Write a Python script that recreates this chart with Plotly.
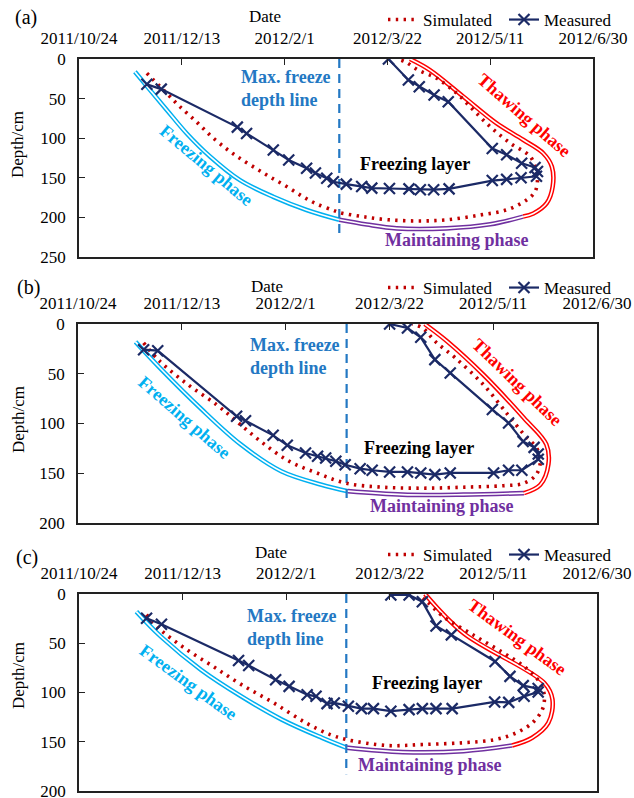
import plotly.graph_objects as go
import pandas as pd

W, H = 634, 798
START = pd.Timestamp('2011-10-24')
FONT = 'Liberation Serif, Times New Roman, serif'

tick_labels = ['2011/10/24', '2011/12/13', '2012/2/1', '2012/3/22', '2012/5/11', '2012/6/30']
y_ticks_a = [0, 50, 100, 150, 200, 250]
y_ticks_bc = [0, 50, 100, 150, 200]

# ---------------- Panel (a)  (x values = days since 2011/10/24) ----------------
meas_a_days = [33, 40, 77, 81.5, 94.5, 102, 110.7, 115, 120.5, 123.7, 130, 137.5, 142.4, 151, 160.5,
               166, 172.5, 180, 201, 208, 215, 222.5, 223, 221.8, 215.3, 208, 201, 179.6, 172.7,
               165.5, 160.2, 150.5]
meas_a_depth = [32, 38, 86, 94, 115, 127.5, 138, 144, 150.5, 155, 158, 161, 163, 163.5, 164,
                165, 165, 164, 153.5, 152, 150, 148, 142, 137, 131.7, 121, 113, 54, 45.5,
                35, 26.5, 0]
sim_a_days = [33, 43.5, 49, 57, 64.5, 72, 78, 86, 93, 101, 109, 115.6, 123.6, 127, 138, 150.5, 165,
              179, 195, 208, 217.7, 221.8, 223, 222, 219.4, 209.6, 200, 191.8, 183.7, 174, 165,
              158.6, 154.5]
sim_a_depth = [18, 45.5, 60, 79, 98, 114, 125, 138, 149, 161, 174, 183, 191, 194, 199, 203, 204.5,
               203, 197, 190.5, 178, 167.5, 153, 138, 123, 106, 85.5, 64.4, 43.3, 24.4, 14,
               3.4, 0]
frz_env_a_days = [27.2, 34.5, 42.6, 52.4, 63.7, 78.3, 94.5, 110.7, 126.6]
frz_env_a_depth = [16, 39, 64, 94, 123, 153, 174, 190.6, 203]
mnt_env_a_days = [126.6, 140, 154.5, 178.8, 200, 216]
mnt_env_a_depth = [203, 209, 213.8, 213.8, 208.7, 199]
thw_env_a_days = [216, 221, 227.5, 230.4, 230, 225.8, 216, 203, 187, 170.7, 161]
thw_env_a_depth = [199, 195, 182, 161, 136, 119, 102, 81, 47.6, 14, 0]

# ---------------- Panel (b) ----------------
meas_b_days = [31.6, 38.4, 76.4, 80.7, 94, 100.8, 109.6, 115.4, 119.3, 124.2, 128.7, 135.9, 141.7,
               150.1, 158.7, 165.1, 171.9, 179.3, 200.2, 207.4, 213.8, 221.7, 221.7, 219.7, 214.4,
               207.4, 199.6, 179.3, 171.9, 165.1, 158.7, 150.1]
meas_b_depth = [25.8, 26.8, 92.8, 97.2, 111.9, 121.9, 129.6, 133, 134.7, 138, 141.4, 145.4, 147,
                148.7, 148.7, 149.7, 151.4, 149.7, 149.7, 147, 147, 136, 130.7, 124, 118,
                99.5, 86, 49.2, 35.8, 13.4, 4, 0]
sim_b_days = [31.6, 39.4, 53, 66.7, 76.4, 88, 101.8, 115.4, 129, 146.6, 166, 185.6, 205, 214.8,
              220.7, 222.7, 221, 214.8, 207, 195.3, 181.7, 172, 166, 161]
sim_b_depth = [19, 37.5, 61, 81, 97.8, 118, 138, 150, 160, 164, 165, 164, 162.5, 160,
               151.4, 138, 125, 111, 91, 61, 34, 17.4, 4, 0]
frz_env_b_days = [27.7, 39.4, 58.9, 78.4, 97.9, 117.3, 130]
frz_env_b_depth = [18, 44, 84.4, 121, 148, 161.5, 168]
mnt_env_b_days = [130, 156.3, 185.6, 214.8]
mnt_env_b_depth = [168, 171.5, 171.5, 170]
thw_env_b_days = [214.8, 222.7, 226.6, 225.6, 214.8, 195.3, 177.8, 167]
thw_env_b_depth = [170, 161.5, 141, 121, 94.5, 51, 17.4, 0]

# ---------------- Panel (c) ----------------
meas_c_days = [32.6, 39.8, 77, 81.9, 94.9, 101.4, 110.1, 114.4, 119.7, 123.2, 130, 136.3, 142.1,
               150.5, 159.3, 165.7, 172.3, 180.1, 200.6, 207.4, 214.8, 221.6, 221.6, 214.4, 208,
               200.8, 179.7, 172.3, 165.7, 159.3, 150.5]
meas_c_depth = [24.6, 30.7, 67.5, 72.5, 87, 93.8, 102.2, 103.9, 111.3, 110.6, 114, 116.4, 116.4,
                119, 117.4, 116.4, 116.4, 116.4, 109.6, 110, 103.9, 99.5, 96, 93, 83.6,
                68.5, 41.5, 32.4, 7.8, 1, 1]
sim_c_days = [32.6, 39.4, 51, 64.7, 78.4, 94, 109.6, 121.2, 129, 148.5, 166, 185.6, 201, 211,
              218.7, 223.6, 224.6, 222.6, 214.8, 205, 191.4, 175.8, 168, 164]
sim_c_depth = [21, 36.4, 55, 73.5, 92, 110.6, 130.9, 142.7, 147.7, 153.8, 152.8, 151, 147.7, 141,
               130.9, 117.4, 103.9, 90.4, 73.5, 60, 43, 23, 7.8, 1]
frz_env_c_days = [27.7, 39.4, 58.9, 78.4, 97.9, 117.3, 129]
frz_env_c_depth = [17.9, 43, 77, 104, 127.5, 146, 156]
mnt_env_c_days = [129, 156.3, 185.6, 209]
mnt_env_c_depth = [156, 160.5, 159.5, 153.8]
thw_env_c_days = [209, 218.7, 226.5, 228.5, 224.6, 185.6, 167]
thw_env_c_depth = [153.8, 146, 130.9, 107, 90.4, 39.8, 0]

# max freeze depth line: day and lower end depth
max_freeze_day = [126.6, 129.4, 129]
max_freeze_end = [226, 178, 183]

panel_letters = ['(a)', '(b)', '(c)']
y_max = [250, 200, 200]

# ---------------- layout geometry (window pixels) ----------------
boxes = [(79, 593, 59, 257), (78, 597, 324, 523), (79, 597, 594, 791)]
legend_y = [20, 288, 555]
date_pos = [(265, 16), (267, 286), (271, 552)]
letter_pos = [(26, 18), (28, 287), (27, 557)]
depth_title_y = [145, 420, 676]
mf_pos = [(239, 89), (248, 356), (245, 627)]
fl_pos = [(415, 164), (419, 448), (427, 683)]
fp_pos = [(206, 165, 40), (184, 417, 41), (188, 682, 36)]
mp_pos = [(457, 240), (442, 506), (430, 765)]
tp_pos = [(524, 115, 41), (517, 382, 44), (517, 637, 36)]

NAVY = '#1B2A66'
RED = '#C00000'
CYAN = '#00B0F0'
PURPLE = '#7030A0'
TRED = '#FF0000'
BLUE = '#2378C3'


def to_dates(days):
    return START + pd.to_timedelta(pd.Series(days, dtype=float), unit='D')


def px(x, y):
    """window pixel -> paper coords"""
    return x / W, 1 - y / H


panels = [
    (meas_a_days, meas_a_depth, sim_a_days, sim_a_depth, frz_env_a_days, frz_env_a_depth,
     mnt_env_a_days, mnt_env_a_depth, thw_env_a_days, thw_env_a_depth),
    (meas_b_days, meas_b_depth, sim_b_days, sim_b_depth, frz_env_b_days, frz_env_b_depth,
     mnt_env_b_days, mnt_env_b_depth, thw_env_b_days, thw_env_b_depth),
    (meas_c_days, meas_c_depth, sim_c_days, sim_c_depth, frz_env_c_days, frz_env_c_depth,
     mnt_env_c_days, mnt_env_c_depth, thw_env_c_days, thw_env_c_depth),
]

fig = go.Figure()
tickvals = pd.to_datetime(tick_labels, format='%Y/%m/%d')
legend_names = ['legend', 'legend2', 'legend3']

for i, p in enumerate(panels):
    (md, mv, sd, sv, fd, fv, nd, nv, td, tv) = p
    xa = 'x' if i == 0 else f'x{i+1}'
    ya = 'y' if i == 0 else f'y{i+1}'
    # double-line envelopes
    for d, v, c in [(fd, fv, CYAN), (nd, nv, PURPLE), (td, tv, TRED)]:
        fig.add_trace(go.Scatter(x=to_dates(d), y=v, mode='lines', line=dict(color=c, width=4.6, shape='spline'),
                                 xaxis=xa, yaxis=ya, showlegend=False, hoverinfo='skip'))
        fig.add_trace(go.Scatter(x=to_dates(d), y=v, mode='lines', line=dict(color='white', width=1.6, shape='spline'),
                                 xaxis=xa, yaxis=ya, showlegend=False, hoverinfo='skip'))
    # max freeze depth line
    fig.add_trace(go.Scatter(x=to_dates([max_freeze_day[i], max_freeze_day[i]]), y=[0, max_freeze_end[i]],
                             mode='lines', line=dict(color=BLUE, width=2.2, dash='9px,6px'),
                             xaxis=xa, yaxis=ya, showlegend=False, hoverinfo='skip'))
    fig.add_trace(go.Scatter(x=to_dates(sd), y=sv, mode='lines', name='Simulated',
                             line=dict(color=RED, width=3.6, dash='2.4px,5.4px', shape='spline'),
                             xaxis=xa, yaxis=ya, legend=legend_names[i]))
    fig.add_trace(go.Scatter(x=to_dates(md), y=mv, mode='lines+markers', name='Measured',
                             line=dict(color=NAVY, width=2.2),
                             marker=dict(symbol='x-thin', size=11, line=dict(width=2.2, color=NAVY)),
                             xaxis=xa, yaxis=ya, legend=legend_names[i]))

layout = dict(template='none', width=W, height=H, margin=dict(l=0, r=0, t=0, b=0, autoexpand=False),
              plot_bgcolor='white', paper_bgcolor='white', font=dict(family=FONT, size=17, color='black'))
for i, (x0, x1, y0, y1) in enumerate(boxes):
    sx = '' if i == 0 else str(i + 1)
    ya = 'y' if i == 0 else f'y{i+1}'
    xa = 'x' if i == 0 else f'x{i+1}'
    dx0, _ = px(x0, 0)
    dx1, _ = px(x1, 0)
    _, dy_top = px(0, y0)
    _, dy_bot = px(0, y1)
    layout['xaxis' + sx] = dict(domain=[dx0, dx1], anchor=ya, side='top', type='date',
                                range=[tickvals[0], tickvals[-1]], tickvals=tickvals, ticktext=tick_labels,
                                ticks='inside', ticklen=6, tickcolor='#222', showgrid=False, zeroline=False,
                                showline=True, mirror=True, linecolor='#222', linewidth=1.6, automargin=False,
                                tickfont=dict(size=17, family=FONT), ticklabelstandoff=6,
                                ticklabeloverflow='allow')
    yt = y_ticks_a if i == 0 else y_ticks_bc
    layout['yaxis' + sx] = dict(domain=[dy_bot, dy_top], anchor=xa, range=[y_max[i], 0],
                                tickvals=yt, ticks='inside', ticklen=6, tickcolor='#222', showgrid=False,
                                zeroline=False, showline=True, mirror=True, linecolor='#222', linewidth=1.6,
                                automargin=False, tickfont=dict(size=17, family=FONT), ticklabelstandoff=8,
                                ticklabeloverflow='allow')
    lx, ly = px(383, legend_y[i])
    layout[legend_names[i]] = dict(orientation='h', x=lx, y=ly, xanchor='left', yanchor='middle',
                                   bgcolor='rgba(0,0,0,0)', font=dict(size=17, family=FONT),
                                   entrywidth=76, entrywidthmode='pixels', borderwidth=0)
fig.update_layout(**layout)

ann = []


def add_text(x, y, text, size=18, color='black', bold=True, angle=0, xanchor='center', align='center'):
    ax, ay = px(x, y)
    t = f'<b>{text}</b>' if bold else text
    ann.append(dict(x=ax, y=ay, xref='paper', yref='paper', text=t, showarrow=False, textangle=angle,
                    font=dict(size=size, color=color, family=FONT), xanchor=xanchor, yanchor='middle',
                    align=align))


for i in range(3):
    add_text(*date_pos[i], 'Date', size=17, bold=False)
    add_text(*letter_pos[i], panel_letters[i], size=20, bold=False)
    add_text(18, depth_title_y[i], 'Depth/cm', size=17, bold=False, angle=-90)
    add_text(mf_pos[i][0], mf_pos[i][1], 'Max. freeze<br>depth line', color=BLUE, xanchor='left', align='left')
    add_text(*fl_pos[i], 'Freezing layer')
    add_text(fp_pos[i][0], fp_pos[i][1], 'Freezing phase', color=CYAN, angle=fp_pos[i][2])
    add_text(*mp_pos[i], 'Maintaining phase', color=PURPLE)
    add_text(tp_pos[i][0], tp_pos[i][1], 'Thawing phase', color=TRED, angle=tp_pos[i][2])

fig.update_layout(annotations=ann)
fig.write_html('out.html', config={'displayModeBar': False},
               post_script="document.body.style.margin='0';document.body.style.overflow='hidden';")
